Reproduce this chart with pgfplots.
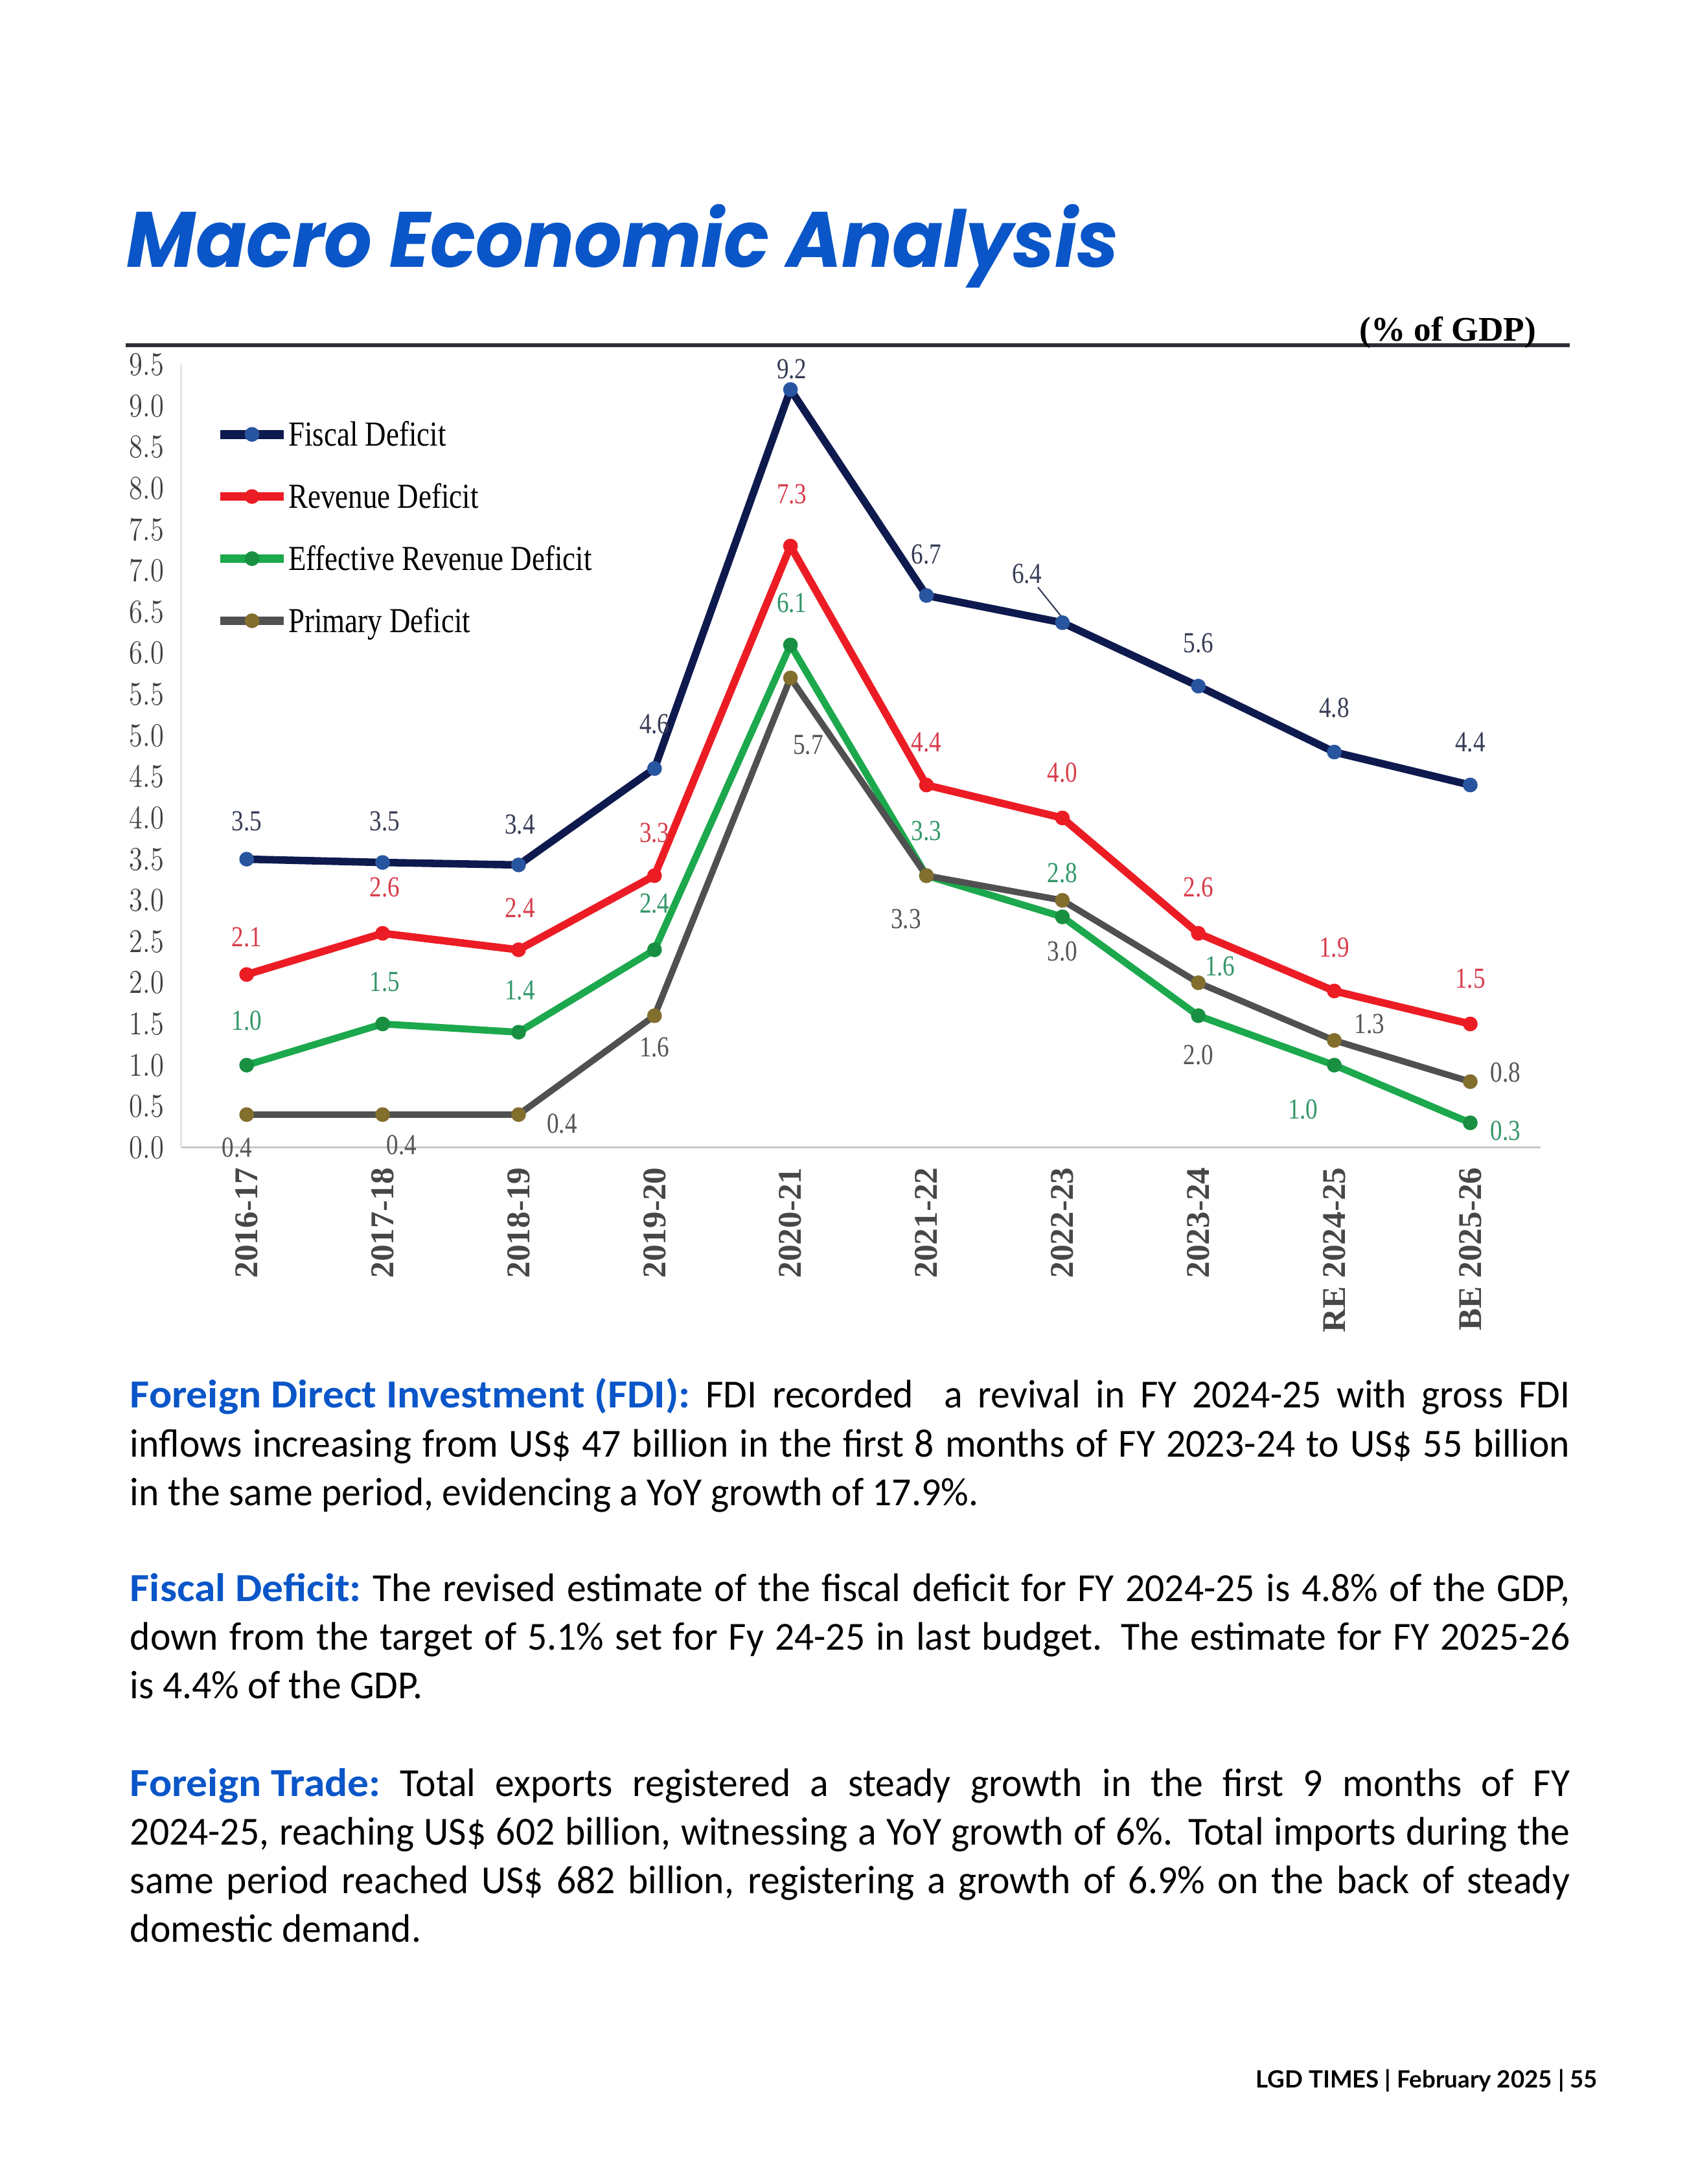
\documentclass[border=0pt]{standalone}
\usepackage{pgfplots}
\pgfplotsset{compat=1.18}
\usepackage{fontspec}
\usepackage{graphicx}
\setmainfont{Carlito}
\newfontfamily\chartfont{Liberation Serif}
\newfontfamily\titlefont{Poppins}
\newfontfamily\footfont{Lato}

\definecolor{titleblue}{RGB}{10,86,200}
\definecolor{fiscal}{RGB}{14,26,78}
\definecolor{fiscalmk}{RGB}{40,85,160}
\definecolor{revenue}{RGB}{236,28,36}
\definecolor{effective}{RGB}{28,168,76}
\definecolor{primary}{RGB}{80,80,80}
\definecolor{primarymk}{RGB}{130,110,45}
\definecolor{lblfiscal}{RGB}{55,60,85}
\definecolor{lblred}{RGB}{215,60,75}
\definecolor{lblgreen}{RGB}{50,150,105}
\definecolor{lblgray}{RGB}{85,85,85}

\newcommand\cs[1]{\scalebox{0.83}[1]{#1}}
\newcommand\hd[1]{\scalebox{1.1}[1]{\bfseries\color{titleblue}#1}}

\begin{document}
\begin{tikzpicture}
\fill[white] (0bp,0bp) rectangle (612bp,-787.36bp);

% title, rule and unit
\node[anchor=base west, inner sep=0pt, text=titleblue] at (45.5bp,-96.4bp)
  {\scalebox{0.957}[1]{\titlefont\fontsize{28.4}{32}\selectfont\bfseries\itshape Macro Economic Analysis}};
\draw[line width=1.3bp, color={rgb,255:red,43;green,47;blue,51}] (45.2bp,-124.5bp) -- (565.8bp,-124.5bp);
\node[anchor=base east, inner sep=0pt] at (553.8bp,-123bp)
  {\chartfont\fontsize{12.5}{14}\selectfont\bfseries (\% of GDP)};

\begin{axis}[
  at={(65.3bp,-413.7bp)}, anchor=south west,
  scale only axis, width=490bp, height=282.2bp,
  xmin=-0.4816, xmax=9.518, ymin=0, ymax=9.5,
  axis lines*=left,
  x axis line style={draw=black!22, line width=0.8bp, -},
  y axis line style={draw=black!10, line width=0.8bp, -},
  tick style={draw=none},
  xtick={0,...,9},
  xticklabels={2016-17,2017-18,2018-19,2019-20,2020-21,2021-22,2022-23,2023-24,RE 2024-25,BE 2025-26},
  xticklabel style={rotate=90, anchor=east, inner sep=0pt,
    font=\chartfont\fontsize{12}{14}\selectfont\bfseries, text=black!72},
  xticklabel shift=7bp,
  ytick={0,0.5,...,9.5},
  yticklabel={\cs{\pgfmathprintnumber[fixed,fixed zerofill,precision=1]{\tick}}},
  yticklabel style={anchor=east, inner sep=0pt, font=\chartfont\fontsize{12}{14}\selectfont, text=black!75},
  yticklabel shift=6bp,
  clip=false,
  legend style={draw=none, fill=none, at={(0.025,0.929)}, anchor=north west,
    font=\chartfont\fontsize{12.7}{14}\selectfont, row sep=10.9bp, inner sep=0pt,
    column sep=0pt,
    nodes={inner sep=0pt, text height=9bp, text depth=2.5bp}},
  legend cell align=left,
  legend image code/.code={
    \draw[#1, line width=3.2bp, mark repeat=2, mark phase=2]
      plot coordinates {(0bp,0.9bp) (11.5bp,0.9bp) (23bp,0.9bp)};},
  every axis plot/.append style={line join=round},
]
\addplot[fiscal, line width=2.7bp, mark=*, mark size=2.4bp, mark options={fill=fiscalmk, draw=fiscalmk, line width=0.5bp}]
  coordinates {(0,3.5) (1,3.46) (2,3.43) (3,4.6) (4,9.2) (5,6.7) (6,6.37) (7,5.6) (8,4.8) (9,4.4)};
\addlegendentry{\cs{Fiscal Deficit}}
\addplot[revenue, line width=2.7bp, mark=*, mark size=2.4bp, mark options={fill=revenue, draw=revenue, line width=0.5bp}]
  coordinates {(0,2.1) (1,2.6) (2,2.4) (3,3.3) (4,7.3) (5,4.4) (6,4.0) (7,2.6) (8,1.9) (9,1.5)};
\addlegendentry{\cs{Revenue Deficit}}
\addplot[effective, line width=2.5bp, mark=*, mark size=2.4bp, mark options={fill=effective!85!black, draw=effective!85!black, line width=0.5bp}]
  coordinates {(0,1.0) (1,1.5) (2,1.4) (3,2.4) (4,6.1) (5,3.3) (6,2.8) (7,1.6) (8,1.0) (9,0.3)};
\addlegendentry{\cs{Effective Revenue Deficit}}
\addplot[primary, line width=2.3bp, mark=*, mark size=2.4bp, mark options={fill=primarymk, draw=primarymk, line width=0.5bp}]
  coordinates {(0,0.4) (1,0.4) (2,0.4) (3,1.6) (4,5.7) (5,3.3) (6,3.0) (7,2.0) (8,1.3) (9,0.8)};
\addlegendentry{\cs{Primary Deficit}}

% data labels
\begin{scope}[every node/.style={inner sep=0pt, font=\chartfont\fontsize{10.5}{12}\selectfont}]
\node[text=lblfiscal] at (axis cs:0,3.96) {\cs{3.5}};
\node[text=lblfiscal] at (axis cs:1.015,3.96) {\cs{3.5}};
\node[text=lblfiscal] at (axis cs:2.01,3.92) {\cs{3.4}};
\node[text=lblfiscal] at (axis cs:3.0,5.14) {\cs{4.6}};
\node[text=lblfiscal] at (axis cs:4.01,9.45) {\cs{9.2}};
\node[text=lblfiscal] at (axis cs:5.0,7.2) {\cs{6.7}};
\node[text=lblfiscal] at (axis cs:5.74,6.96) {\cs{6.4}};
\draw[lblfiscal, line width=0.5bp] (axis cs:5.82,6.8) -- (axis cs:5.99,6.45);
\node[text=lblfiscal] at (axis cs:7.0,6.12) {\cs{5.6}};
\node[text=lblfiscal] at (axis cs:8.0,5.34) {\cs{4.8}};
\node[text=lblfiscal] at (axis cs:9.0,4.92) {\cs{4.4}};

\node[text=lblred] at (axis cs:0,2.55) {\cs{2.1}};
\node[text=lblred] at (axis cs:1.015,3.16) {\cs{2.6}};
\node[text=lblred] at (axis cs:2.01,2.91) {\cs{2.4}};
\node[text=lblred] at (axis cs:3.0,3.82) {\cs{3.3}};
\node[text=lblred] at (axis cs:4.01,7.93) {\cs{7.3}};
\node[text=lblred] at (axis cs:5.0,4.92) {\cs{4.4}};
\node[text=lblred] at (axis cs:6.0,4.55) {\cs{4.0}};
\node[text=lblred] at (axis cs:7.0,3.16) {\cs{2.6}};
\node[text=lblred] at (axis cs:8.0,2.43) {\cs{1.9}};
\node[text=lblred] at (axis cs:9.0,2.05) {\cs{1.5}};

\node[text=lblgreen] at (axis cs:0,1.54) {\cs{1.0}};
\node[text=lblgreen] at (axis cs:1.015,2.01) {\cs{1.5}};
\node[text=lblgreen] at (axis cs:2.01,1.91) {\cs{1.4}};
\node[text=lblgreen] at (axis cs:3.0,2.96) {\cs{2.4}};
\node[text=lblgreen] at (axis cs:4.01,6.61) {\cs{6.1}};
\node[text=lblgreen] at (axis cs:5.0,3.84) {\cs{3.3}};
\node[text=lblgreen] at (axis cs:6.0,3.33) {\cs{2.8}};
\node[text=lblgreen] at (axis cs:7.16,2.2) {\cs{1.6}};
\node[text=lblgreen] at (axis cs:7.77,0.46) {\cs{1.0}};
\node[text=lblgreen] at (axis cs:9.26,0.2) {\cs{0.3}};

\node[text=lblgray] at (axis cs:-0.07,0.0) {\cs{0.4}};
\node[text=lblgray] at (axis cs:1.14,0.03) {\cs{0.4}};
\node[text=lblgray] at (axis cs:2.32,0.29) {\cs{0.4}};
\node[text=lblgray] at (axis cs:3.0,1.22) {\cs{1.6}};
\node[text=lblgray] at (axis cs:4.13,4.89) {\cs{5.7}};
\node[text=lblgray] at (axis cs:4.85,2.77) {\cs{3.3}};
\node[text=lblgray] at (axis cs:6.0,2.38) {\cs{3.0}};
\node[text=lblgray] at (axis cs:7.0,1.12) {\cs{2.0}};
\node[text=lblgray] at (axis cs:8.26,1.5) {\cs{1.3}};
\node[text=lblgray] at (axis cs:9.26,0.91) {\cs{0.8}};
\end{scope}
\end{axis}

% body text
\begin{scope}[every node/.style={anchor=base west, inner sep=0pt}]
\node at (46.7bp,-507.6bp) {\scalebox{0.97}[1]{\parbox[t]{535bp}{\fontsize{14.4}{17.6}\selectfont\leavevmode
  \hd{Foreign Direct Investment (FDI):} FDI recorded \ a revival in FY 2024-25 with gross FDI\linebreak
  inflows increasing from US\$ 47 billion in the first 8 months of FY 2023-24 to US\$ 55 billion\linebreak
  in the same period, evidencing a YoY growth of 17.9\%.}}};
\node at (46.7bp,-577.3bp) {\scalebox{0.97}[1]{\parbox[t]{535bp}{\fontsize{14.4}{17.6}\selectfont\leavevmode
  \hd{Fiscal Deficit:} The revised estimate of the fiscal deficit for FY 2024-25 is 4.8\% of the GDP,\linebreak
  down from the target of 5.1\% set for Fy 24-25 in last budget. The estimate for FY 2025-26\linebreak
  is 4.4\% of the GDP.}}};
\node at (46.7bp,-647.6bp) {\scalebox{0.97}[1]{\parbox[t]{535bp}{\fontsize{14.4}{17.6}\selectfont\leavevmode
  \hd{Foreign Trade:} Total exports registered a steady growth in the first 9 months of FY\linebreak
  2024-25, reaching US\$ 602 billion, witnessing a YoY growth of 6\%. Total imports during the\linebreak
  same period reached US\$ 682 billion, registering a growth of 6.9\% on the back of steady\linebreak
  domestic demand.}}};
\end{scope}

% footer
\node[anchor=base east, inner sep=0pt] at (576bp,-752.6bp)
  {\footfont\fontsize{8.6}{10}\selectfont\bfseries LGD TIMES | February 2025 | 55};
\end{tikzpicture}
\end{document}
